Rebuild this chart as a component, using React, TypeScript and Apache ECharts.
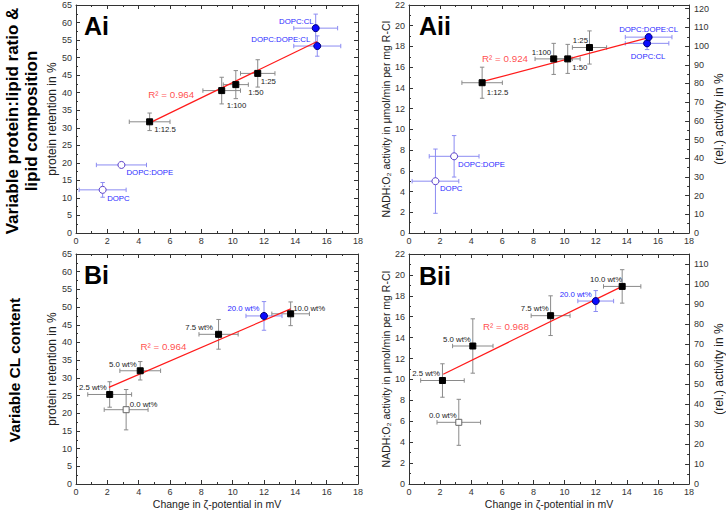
import React, { useEffect, useRef } from "react";
import * as echarts from "echarts";

// ---------- data ----------
// protein:lipid ratio series (x = change in zeta-potential, mV)
const ratioLabels = ["1:12.5", "1:100", "1:50", "1:25"];
const ratioZeta = [4.7, 9.3, 10.2, 11.6];
const ratioZetaErr = [1.3, 1.2, 0.8, 1.1];
const ratioRetention = [31.7, 40.6, 42.3, 45.5];
const ratioRetentionErr = [2.5, 3.8, 4.0, 3.9];
const ratioActivity = [14.5, 16.8, 16.8, 17.9];
const ratioActivityErr = [1.5, 1.5, 1.4, 1.6];

// CL-containing compositions
const clAiLabels = ["DOPC:CL", "DOPC:DOPE:CL"];
const clZeta = [15.3, 15.4];
const clZetaErr = [1.4, 1.5];
const clRetention = [58.4, 53.3];
const clRetentionErr = [4.0, 2.9];
const clActivity = [18.3, 18.9];
const clActivityErr = [0.6, 0.3];

// compositions without CL
const noClLabels = ["DOPC:DOPE", "DOPC"];
const noClZeta = [2.9, 1.7];
const noClZetaErr = [1.6, 1.5];
const noClRetention = [19.4, 12.3];
const noClRetentionErr = [0.3, 2.1];
const noClActivity = [7.4, 5.0];
const noClActivityErr = [2.0, 3.1];

// variable CL content
const wtLabels = ["2.5 wt%", "5.0 wt%", "7.5 wt%", "10.0 wt%"];
const wtZeta = [2.15, 4.1, 9.1, 13.7];
const wtZetaErr = [1.4, 1.3, 1.25, 1.2];
const wtRetention = [25.3, 32.0, 42.3, 48.1];
const wtRetentionErr = [3.6, 2.6, 4.2, 3.35];
const wtActivity = [9.9, 13.2, 16.1, 18.9];
const wtActivityErr = [1.6, 2.6, 1.9, 1.6];

const highLabels = ["20.0 wt%"];
const highZeta = [12.0];
const highZetaErr = [1.15];
const highRetention = [47.5];
const highRetentionErr = [4.05];
const highActivity = [17.5];
const highActivityErr = [1.0];

const zeroLabels = ["0.0 wt%"];
const zeroZeta = [3.2];
const zeroZetaErr = [1.4];
const zeroRetention = [21.0];
const zeroRetentionErr = [5.7];
const zeroActivity = [5.9];
const zeroActivityErr = [2.2];

// linear fits
const fitAiX = [4.7, 15.4];
const fitAiY = [31.4, 54.6];
const fitAiiX = [4.7, 15.4];
const fitAiiY = [14.6, 18.85];
const fitBiX = [2.1, 13.7];
const fitBiY = [27.3, 49.5];
const fitBiiX = [2.2, 13.7];
const fitBiiY = [10.5, 18.9];
const r2Values = ["0.964", "0.924", "0.964", "0.968"];
const r2Anchor = [
  [4.58, 39.5],
  [4.66, 16.8],
  [4.08, 39.0],
  [4.72, 15.1],
];

// axis ranges
const zetaMax = 18;
const retentionMax = 65;
const activityMax = 22;
const relActivityMaxA = 122;
const relActivityMaxB = 115;

// ---------- label placement (layout only) ----------
type Place = [string, number[]];
const placeRatioAi: Place[] = [["right", [-4, 8]], ["right", [-3.5, 15]], ["right", [4, 8]], ["right", [-5.5, 8]]];
const placeClAi: Place[] = [["left", [7, -7]], ["left", [2, -7]]];
const placeNoClAi: Place[] = [["right", [-4, 8]], ["right", [-4.5, 8.5]]];
const placeRatioAii: Place[] = [["right", [-4, 10]], ["left", [6, -6]], ["right", [-4, 9]], ["left", [7, -7]]];
const placeClAii: Place[] = [["bottom", [1, 0]], ["top", [0, 5]]];
const placeNoClAii: Place[] = [["right", [-5, 8]], ["right", [-4.5, 7.5]]];
const placeWtBi: Place[] = [["left", [5.5, -7]], ["left", [5, -6.5]], ["left", [3, -7]], ["right", [-6, -5]]];
const placeHighBi: Place[] = [["left", [4.5, -7]]];
const placeZeroBi: Place[] = [["right", [-5, -5.5]]];
const placeWtBii: Place[] = [["left", [6, -7]], ["left", [6.5, -7]], ["left", [6.5, -6.7]], ["left", [8.5, -6.5]]];
const placeHighBii: Place[] = [["left", [5, -6.3]]];
const placeZeroBii: Place[] = [["left", [6.4, -6.5]]];

const FONT = "Liberation Sans";

const styles: Record<string, any> = {
  black: { symbol: "rect", size: 6, color: "#000", border: "#000", err: "#8a8a8a", label: "#222" },
  blue: { symbol: "circle", size: 7, color: "#0a0aff", border: "#00007a", err: "#8c8cf2", label: "#2a2aff" },
  openBlue: { symbol: "circle", size: 7, color: "#fff", border: "#5a3fc8", err: "#8c8cf2", label: "#2a2aff" },
  openGray: { symbol: "rect", size: 6, color: "#fff", border: "#666", err: "#8a8a8a", label: "#222" },
};

function pointGroup(
  g: number,
  names: string[],
  xs: number[],
  xe: number[],
  ys: number[],
  ye: number[],
  place: Place[],
  styleKey: string
) {
  const st = styles[styleKey];
  const errData = xs.map((x, i) => [x, ys[i], xe[i], ye[i]]);
  const err = {
    type: "custom",
    xAxisIndex: g,
    yAxisIndex: g,
    silent: true,
    z: 1,
    encode: { x: 0, y: 1 },
    data: errData,
    renderItem: (params: any, api: any) => {
      const x = api.value(0);
      const y = api.value(1);
      const ex = api.value(2);
      const ey = api.value(3);
      const l = api.coord([x - ex, y]);
      const r = api.coord([x + ex, y]);
      const t = api.coord([x, y + ey]);
      const b = api.coord([x, y - ey]);
      const cap = 2.2;
      const ls = { stroke: st.err, lineWidth: 1 };
      const ln = (x1: number, y1: number, x2: number, y2: number) => ({
        type: "line",
        shape: { x1, y1, x2, y2 },
        style: ls,
      });
      return {
        type: "group",
        children: [
          ln(l[0], l[1], r[0], r[1]),
          ln(l[0], l[1] - cap, l[0], l[1] + cap),
          ln(r[0], r[1] - cap, r[0], r[1] + cap),
          ln(t[0], t[1], b[0], b[1]),
          ln(t[0] - cap, t[1], t[0] + cap, t[1]),
          ln(b[0] - cap, b[1], b[0] + cap, b[1]),
        ],
      };
    },
  };
  const pts = {
    type: "scatter",
    xAxisIndex: g,
    yAxisIndex: g,
    z: 3,
    symbol: st.symbol,
    symbolSize: st.size,
    itemStyle: { color: st.color, borderColor: st.border, borderWidth: 1, opacity: 1 },
    data: xs.map((x, i) => ({
      name: names[i],
      value: [x, ys[i]],
      label: {
        show: true,
        formatter: "{b}",
        position: place[i][0],
        offset: place[i][1],
        distance: 5,
        fontSize: 7.8,
        fontFamily: FONT,
        color: st.label,
      },
    })),
  };
  return [err, pts];
}

function fitLine(g: number, xs: number[], ys: number[]) {
  return {
    type: "line",
    xAxisIndex: g,
    yAxisIndex: g,
    z: 2,
    symbol: "none",
    silent: true,
    lineStyle: { color: "#ff1a1a", width: 1.2 },
    data: xs.map((x, i) => [x, ys[i]]),
  };
}

function r2Text(g: number) {
  return {
    type: "scatter",
    xAxisIndex: g,
    yAxisIndex: g,
    z: 4,
    silent: true,
    symbolSize: 1,
    itemStyle: { color: "rgba(0,0,0,0)" },
    data: [
      {
        value: r2Anchor[g],
        label: {
          show: true,
          position: "right",
          distance: 0,
          formatter: "R² = " + r2Values[g],
          fontSize: 9.8,
          fontFamily: FONT,
          color: "#ff1a1a",
        },
      },
    ],
  };
}

const grids = [
  { left: 76, top: 5, width: 282, height: 228 },
  { left: 409, top: 5, width: 282, height: 228 },
  { left: 76, top: 254, width: 282, height: 230 },
  { left: 409, top: 254, width: 282, height: 230 },
];

const axisLineStyle = { color: "#333", width: 1 };
const tickLabel = { fontSize: 9, color: "#333", fontFamily: FONT };

function xAxisFor(g: number, top: boolean) {
  const isB = g >= 2;
  return {
    type: "value",
    gridIndex: g,
    position: top ? "top" : "bottom",
    min: 0,
    max: zetaMax,
    interval: 2,
    axisLine: { show: true, onZero: false, lineStyle: axisLineStyle },
    axisTick: { show: true, inside: true, length: 4, lineStyle: axisLineStyle },
    minorTick: { show: true, splitNumber: 2, length: 2, lineStyle: axisLineStyle },
    axisLabel: top ? { show: false } : { ...tickLabel, margin: 3 },
    splitLine: { show: false },
    minorSplitLine: { show: false },
    name: !top && isB ? "Change in ζ-potential in mV" : "",
    nameLocation: "middle",
    nameGap: 14,
    nameTextStyle: { fontSize: 10.5, color: "#222", fontFamily: FONT },
  };
}

function yAxisFor(g: number, right: boolean) {
  const isActivity = g === 1 || g === 3;
  let min = 0;
  let max = isActivity ? activityMax : retentionMax;
  let interval = isActivity ? 2 : 5;
  let showLabels = !right;
  let name = "";
  let nameSize = 12;
  let nameGap = 18;
  if (!right) {
    name = isActivity ? "NADH:O₂ activity in μmol/min per mg R-CI" : "protein retention in %";
    nameSize = isActivity ? 10.5 : 12;
  }
  if (right && isActivity) {
    max = g === 1 ? relActivityMaxA : relActivityMaxB;
    interval = 10;
    showLabels = true;
    name = "(rel.) activity in %";
    nameSize = 12;
    nameGap = 17;
  }
  return {
    type: "value",
    gridIndex: g,
    position: right ? "right" : "left",
    min,
    max,
    interval,
    axisLine: { show: true, onZero: false, lineStyle: axisLineStyle },
    axisTick: { show: true, inside: true, length: 4, lineStyle: axisLineStyle },
    minorTick: { show: true, splitNumber: 2, length: 2, lineStyle: axisLineStyle },
    axisLabel: showLabels
      ? { ...tickLabel, margin: right ? 5 : 4, showMaxLabel: right ? false : true }
      : { show: false },
    splitLine: { show: false },
    minorSplitLine: { show: false },
    name,
    nameLocation: "middle",
    nameGap,
    nameTextStyle: { fontSize: nameSize, color: "#222", fontFamily: FONT },
  };
}

export default function App() {
  const ref = useRef<HTMLDivElement>(null);
  useEffect(() => {
    document.body.style.margin = "0";
    if (!ref.current) return;
    const chart = echarts.init(ref.current, undefined, { renderer: "svg" });

    const series: any[] = [
      // Ai
      ...pointGroup(0, ratioLabels, ratioZeta, ratioZetaErr, ratioRetention, ratioRetentionErr, placeRatioAi, "black"),
      ...pointGroup(0, clAiLabels, clZeta, clZetaErr, clRetention, clRetentionErr, placeClAi, "blue"),
      ...pointGroup(0, noClLabels, noClZeta, noClZetaErr, noClRetention, noClRetentionErr, placeNoClAi, "openBlue"),
      fitLine(0, fitAiX, fitAiY),
      r2Text(0),
      // Aii
      ...pointGroup(1, ratioLabels, ratioZeta, ratioZetaErr, ratioActivity, ratioActivityErr, placeRatioAii, "black"),
      ...pointGroup(1, clAiLabels, clZeta, clZetaErr, clActivity, clActivityErr, placeClAii, "blue"),
      ...pointGroup(1, noClLabels, noClZeta, noClZetaErr, noClActivity, noClActivityErr, placeNoClAii, "openBlue"),
      fitLine(1, fitAiiX, fitAiiY),
      r2Text(1),
      // Bi
      ...pointGroup(2, wtLabels, wtZeta, wtZetaErr, wtRetention, wtRetentionErr, placeWtBi, "black"),
      ...pointGroup(2, highLabels, highZeta, highZetaErr, highRetention, highRetentionErr, placeHighBi, "blue"),
      ...pointGroup(2, zeroLabels, zeroZeta, zeroZetaErr, zeroRetention, zeroRetentionErr, placeZeroBi, "openGray"),
      fitLine(2, fitBiX, fitBiY),
      r2Text(2),
      // Bii
      ...pointGroup(3, wtLabels, wtZeta, wtZetaErr, wtActivity, wtActivityErr, placeWtBii, "black"),
      ...pointGroup(3, highLabels, highZeta, highZetaErr, highActivity, highActivityErr, placeHighBii, "blue"),
      ...pointGroup(3, zeroLabels, zeroZeta, zeroZetaErr, zeroActivity, zeroActivityErr, placeZeroBii, "openGray"),
      fitLine(3, fitBiiX, fitBiiY),
      r2Text(3),
    ];

    const panelText = (text: string, x: number, y: number) => ({
      type: "text",
      x,
      y,
      z: 10,
      style: {
        text,
        font: `bold 25px "${FONT}"`,
        fill: "#000",
        align: "left",
        verticalAlign: "middle",
      },
    });

    chart.setOption({
      animation: false,
      backgroundColor: "#fff",
      grid: grids,
      xAxis: [0, 1, 2, 3].map((g) => xAxisFor(g, false)).concat([0, 1, 2, 3].map((g) => xAxisFor(g, true))),
      yAxis: [0, 1, 2, 3].map((g) => yAxisFor(g, false)).concat([0, 1, 2, 3].map((g) => yAxisFor(g, true))),
      series,
      graphic: [
        panelText("Ai", 84, 26),
        panelText("Aii", 419, 26),
        panelText("Bi", 84, 275),
        panelText("Bii", 419, 276),
        {
          type: "text",
          x: 21.5,
          y: 121,
          rotation: Math.PI / 2,
          style: {
            text: "Variable protein:lipid ratio &\nlipid composition",
            font: `bold 17px "${FONT}"`,
            fill: "#000",
            align: "center",
            verticalAlign: "middle",
            lineHeight: 19,
          },
        },
        {
          type: "text",
          x: 14,
          y: 370,
          rotation: Math.PI / 2,
          style: {
            text: "Variable CL content",
            font: `bold 15.5px "${FONT}"`,
            fill: "#000",
            align: "center",
            verticalAlign: "middle",
          },
        },
      ],
    });
    return () => chart.dispose();
  }, []);
  return <div ref={ref} style={{ width: 726, height: 513 }} />;
}
